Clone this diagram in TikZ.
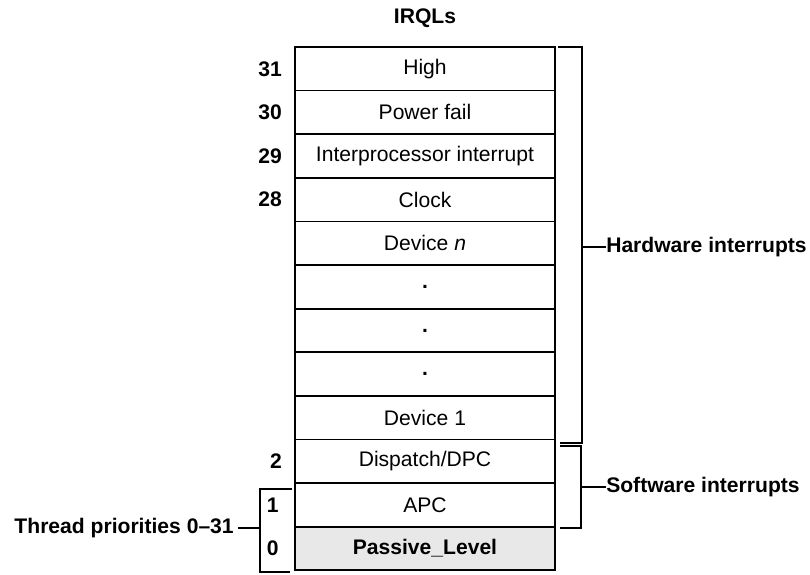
\documentclass[tikz,border=0pt]{standalone}
\usepackage{fontspec}
\setmainfont{Liberation Sans}
\usetikzlibrary{positioning}

\begin{document}
\begin{tikzpicture}[
        x=0.025cm, y=-0.025cm,
        lvl/.style={rectangle, draw, line width=1.2pt, outer sep=0pt,
                    minimum width=6.5cm, minimum height=1.09cm,
                    font=\fontsize{15}{18}\selectfont},
        num/.style={font=\fontsize{15}{18}\selectfont\bfseries, inner sep=0pt},
        lbl/.style={font=\fontsize{15}{18}\selectfont\bfseries, inner sep=0pt},
        brk/.style={line width=1.2pt}
    ]
        \useasboundingbox (0,0) rectangle (810,574);

        \node[lbl] (title) at (425,18) {IRQLs};

        % the levels, top to bottom
        \node[lvl] (high) at (425,68.8) {High};
        \node[lvl, below=0pt of high] (pfail) {Power fail};
        \node[lvl, below=0pt of pfail] (ipi) {Interprocessor interrupt};
        \node[lvl, below=0pt of ipi] (clock) {Clock};
        \node[lvl, below=0pt of clock] (devn) {Device \textit{n}};
        \node[lvl, below=0pt of devn] (dota) {\textbf{.}};
        \node[lvl, below=0pt of dota] (dotb) {\textbf{.}};
        \node[lvl, below=0pt of dotb] (dotc) {\textbf{.}};
        \node[lvl, below=0pt of dotc] (dev1) {Device 1};
        \node[lvl, below=0pt of dev1] (dpc) {Dispatch/DPC};
        \node[lvl, below=0pt of dpc] (apc) {APC};
        \node[lvl, below=0pt of apc, fill=gray!18,
              font=\fontsize{15}{18}\selectfont\bfseries] (passive) {Passive\_Level};

        \node[num, left=0.32cm of high] (n31) {31};
        \node[num, left=0.32cm of pfail] (n30) {30};
        \node[num, left=0.32cm of ipi] (n29) {29};
        \node[num, left=0.32cm of clock] (n28) {28};
        \node[num, left=0.32cm of dpc] (n2) {2};
        \node[num, left=0.4cm of apc] (n1) {1};
        \node[num, left=0.4cm of passive] (n0) {0};

        % brackets
        \draw[brk] (558,47) -| (582,443) -- (560,443);
        \draw[brk] (560,446) -| (581,528) -- (560,528);
        \draw[brk] (292,489) -| (260,572) -- (290,572);

        \node[lbl, anchor=west] (hw) at (606,247) {Hardware interrupts};
        \node[lbl, anchor=west] (sw) at (606,487) {Software interrupts};
        \node[lbl, anchor=east] (thr) at (234,528) {Thread priorities 0--31};

        \draw[brk] (582,247) -- (hw.west);
        \draw[brk] (581,487) -- (sw.west);
        \draw[brk] (260,528) -- ([xshift=3pt]thr.east);
    \end{tikzpicture}
\end{document}
